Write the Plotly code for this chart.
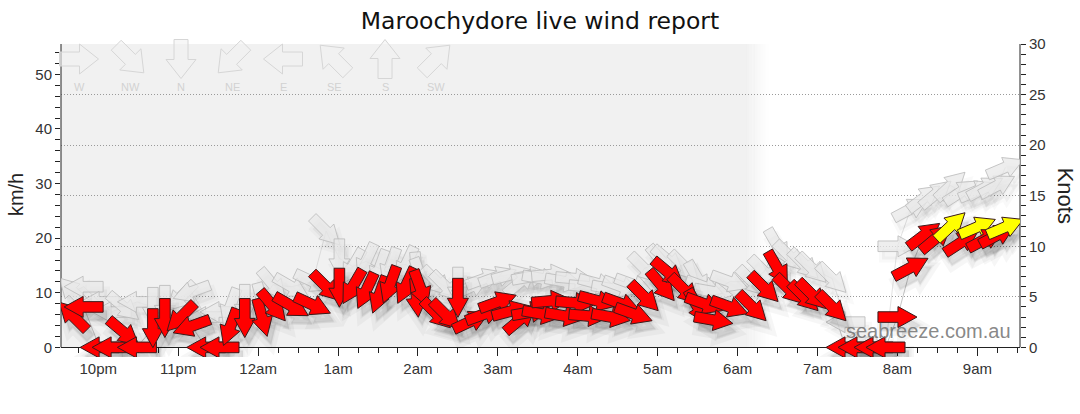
import math
import plotly.graph_objects as go

# ---------------- data ----------------
TITLE = "Maroochydore live wind report"

obs_time = ["21:41", "21:49", "22:01", "22:10", "22:19", "22:29", "22:41", "22:50", "23:02", "23:10",
            "23:21", "23:31", "23:39", "23:50", "00:03", "00:11", "00:25", "00:41", "00:51", "01:01",
            "01:11", "01:21", "01:31", "01:39", "01:51", "01:59", "02:02", "02:14", "02:21", "02:30",
            "02:40", "02:50", "03:00", "03:10", "03:17", "03:25", "03:33", "03:40", "03:50", "03:58",
            "04:08", "04:15", "04:25", "04:33", "04:42", "04:50", "05:03", "05:08", "05:20", "05:30",
            "05:35", "05:42", "05:54", "06:11", "06:20", "06:30", "06:39", "06:50", "06:56", "07:11",
            "07:21", "07:30", "07:42", "07:51", "08:00", "08:10", "08:20", "08:29", "08:40", "08:48",
            "09:00", "09:06", "09:15", "09:21"]

wind_kn = [3.1, 4.0, 0.0, 0.0, 1.5, 0.0, 1.9, 2.9, 3.0, 2.1,
           0.0, 0.0, 2.0, 2.9, 2.95, 4.1, 4.1, 4.2, 6.0, 5.9,
           6.0, 5.6, 5.2, 6.2, 6.1, 4.9, 5.8, 3.3, 3.2, 4.9,
           2.6, 3.3, 4.5, 3.6, 2.8, 3.5, 3.3, 4.6, 3.1, 4.4,
           3.1, 4.6, 3.0, 4.3, 3.3, 5.0, 6.1, 7.4, 5.7, 4.0,
           4.3, 2.7, 4.0, 4.0, 5.9, 7.8, 5.7, 5.0, 5.2, 4.0,
           0.0, 0.0, 0.0, 0.0, 3.0, 7.9, 11.1, 10.8, 12.0, 10.4,
           11.9, 10.7, 11.1, 11.9]

gust_kn = [5.5, 6.0, 4.5, 3.5, 4.0, 4.5, 4.0, 4.2, 5.0, 5.5,
           3.0, 3.5, 4.0, 4.3, 4.5, 6.2, 6.0, 6.5, 11.5, 8.8,
           8.0, 8.5, 7.8, 8.0, 8.2, 7.5, 7.0, 6.5, 6.0, 6.0,
           6.0, 6.8, 7.0, 7.2, 6.5, 7.0, 6.8, 7.2, 6.5, 6.8,
           6.0, 6.3, 5.8, 6.0, 6.2, 7.8, 8.5, 8.6, 8.0, 6.8,
           6.0, 5.5, 6.5, 6.5, 7.5, 10.0, 9.0, 8.2, 7.8, 6.8,
           2.5, 0.5, 0.0, 0.0, 10.0, 13.7, 14.8, 15.2, 16.0, 15.4,
           15.5, 15.8, 16.0, 17.8]

# direction the wind blows FROM (degrees)
wind_from_deg = [135, 90, 90, 90, 310, 90, 0, 0, 45, 70,
                 90, 90, 20, 0, 345, 320, 300, 295, 315, 0,
                 30, 25, 20, 20, 25, 355, 340, 315, 315, 0,
                 245, 250, 250, 255, 230, 260, 280, 265, 280, 275,
                 275, 285, 280, 290, 290, 315, 320, 310, 315, 330,
                 290, 280, 290, 315, 315, 330, 315, 315, 315, 315,
                 90, 90, 90, 90, 270, 242, 233, 230, 227, 237,
                 247, 242, 242, 247]

hour_ticks = ["22:00", "23:00", "00:00", "01:00", "02:00", "03:00", "04:00",
              "05:00", "06:00", "07:00", "08:00", "09:00"]
hour_labels = ["10pm", "11pm", "12am", "1am", "2am", "3am", "4am",
               "5am", "6am", "7am", "8am", "9am"]

compass_labels = ["W", "NW", "N", "NE", "E", "SE", "S", "SW"]
compass_from_deg = [270, 315, 0, 45, 90, 135, 180, 225]

night_end = "06:15"
yellow_from_kn = 11.5
KMH_PER_KN = 1.852
KN_MAX = 30
KN_BELOW = 0.95   # room under the zero line so calm arrows are not cut


def to_dt(hhmm):
    h = int(hhmm[:2])
    day = "2024-05-01" if h >= 12 else "2024-05-02"
    return f"{day} {hhmm}:00"


def shift_minutes(hhmm, m):
    h, mi = int(hhmm[:2]), int(hhmm[3:])
    tot = (h * 60 + mi + m) % (24 * 60)
    return f"{tot // 60:02d}:{tot % 60:02d}"


X_START = "2024-05-01 21:32:00"
X_END = "2024-05-02 09:32:00"

# ---------------- geometry helpers (pixel styling) ----------------
def arrow_path(bearing, L, HL, HW, SW, dx=0.0, dy=0.0):
    b = math.radians(bearing)
    loc = [(L / 2, 0), (L / 2 - HL, HW), (L / 2 - HL, SW), (-L / 2, SW),
           (-L / 2, -SW), (L / 2 - HL, -SW), (L / 2 - HL, -HW)]
    pts = []
    for u, v in loc:
        x = u * math.sin(b) + v * math.cos(b) + dx
        y = u * math.cos(b) - v * math.sin(b) + dy
        pts.append(f"{x:.2f},{y:.2f}")
    return "M " + " L ".join(pts) + " Z"


def data_arrow(t, kn, bearing, fill, line, lw, dx=0.0, dy=0.0):
    return dict(type="path", xref="x", yref="y2", xsizemode="pixel", ysizemode="pixel",
                xanchor=to_dt(t), yanchor=kn,
                path=arrow_path(bearing, 39, 19, 10.5, 5.3, dx, dy),
                fillcolor=fill, line=dict(color=line, width=lw), layer="above")


shapes = []

# night shading with a soft edge
fade_steps = 8
solid_end = shift_minutes(night_end, -8)
shapes.append(dict(type="rect", xref="x", yref="y2", x0=X_START, x1=to_dt(solid_end),
                   y0=0, y1=KN_MAX, fillcolor="#f1f1f1", line=dict(width=0), layer="below"))
for i in range(fade_steps):
    a = 1 - (i + 0.5) / fade_steps
    shapes.append(dict(type="rect", xref="x", yref="y2",
                       x0=to_dt(shift_minutes(solid_end, 2 * i)),
                       x1=to_dt(shift_minutes(solid_end, 2 * i + 2)),
                       y0=0, y1=KN_MAX, fillcolor=f"rgba(241,241,241,{a:.3f})",
                       line=dict(width=0), layer="below"))

# vertical axis lines (stop at the zero line)
for xp in (0, 1):
    shapes.append(dict(type="line", xref="paper", yref="y2", x0=xp, x1=xp, y0=0, y1=KN_MAX,
                       line=dict(color="#222", width=1), layer="above"))

# gust arrows (grey) with faint shadows
for t, g, d in zip(obs_time, gust_kn, wind_from_deg):
    shapes.append(data_arrow(t, g, (d + 180) % 360, "rgba(0,0,0,0.04)", "rgba(0,0,0,0.025)", 6, 4, -8))
for t, g, d in zip(obs_time, gust_kn, wind_from_deg):
    shapes.append(data_arrow(t, g, (d + 180) % 360, "rgba(232,232,232,0.75)", "rgba(185,185,185,0.8)", 1))

# wind arrows with soft shadows (two layers to fake a blur)
for t, w, d in zip(obs_time, wind_kn, wind_from_deg):
    shapes.append(data_arrow(t, w, (d + 180) % 360, "rgba(0,0,0,0.05)", "rgba(0,0,0,0.035)", 10, 4, -9))
for t, w, d in zip(obs_time, wind_kn, wind_from_deg):
    shapes.append(data_arrow(t, w, (d + 180) % 360, "rgba(0,0,0,0.05)", "rgba(0,0,0,0.03)", 3, 4, -8))
for t, w, d in zip(obs_time, wind_kn, wind_from_deg):
    col = "#ffff00" if w >= yellow_from_kn else "#ff0000"
    shapes.append(data_arrow(t, w, (d + 180) % 360, col, "#3a1a1a", 1))

# ---------------- layout geometry ----------------
W, H = 1080, 414
PLOT_L, PLOT_R, PLOT_T = 61, 1020, 44
PX_PER_KN = 303 / KN_MAX
plot_h = (KN_MAX + KN_BELOW) * PX_PER_KN
PLOT_B = PLOT_T + plot_h
zero_frac = KN_BELOW / (KN_MAX + KN_BELOW)


def py_to_paper(py):
    return (PLOT_B - py) / plot_h


# compass key at the top
annotations = []
for i, (lab, d) in enumerate(zip(compass_labels, compass_from_deg)):
    px = 79 + 51 * i
    xf = (px - PLOT_L) / (PLOT_R - PLOT_L)
    shapes.append(dict(type="path", xref="paper", yref="paper", xsizemode="pixel", ysizemode="pixel",
                       xanchor=xf, yanchor=py_to_paper(59),
                       path=arrow_path((d + 180) % 360, 39, 19, 15, 7),
                       fillcolor="rgba(241,241,241,0.6)", line=dict(color="#d6d6d6", width=1),
                       layer="above"))
    annotations.append(dict(x=xf, y=py_to_paper(87), xref="paper", yref="paper",
                            text=lab, showarrow=False, xanchor="center", yanchor="middle",
                            font=dict(family="Liberation Sans", size=11, color="#d2d2d2")))

annotations += [
    dict(x=-0.047, y=py_to_paper(194), xref="paper", yref="paper", text="km/h", textangle=-90,
         showarrow=False, xanchor="center", yanchor="middle",
         font=dict(family="Liberation Sans", size=20, color="#222")),
    dict(x=1.0475, y=py_to_paper(195), xref="paper", yref="paper", text="Knots", textangle=90,
         showarrow=False, xanchor="center", yanchor="middle",
         font=dict(family="Liberation Sans", size=22, color="#222")),
    dict(x=0.905, y=py_to_paper(331), xref="paper", yref="paper", text="seabreeze.com.au",
         showarrow=False, xanchor="center", yanchor="middle",
         font=dict(family="Liberation Sans", size=20, color="rgba(105,105,105,0.8)")),
]

fig = go.Figure()
fig.add_trace(go.Scatter(x=[to_dt(t) for t in obs_time], y=[w * KMH_PER_KN for w in wind_kn],
                         mode="lines", line=dict(color="rgba(150,150,150,0.55)", width=1),
                         hoverinfo="skip", showlegend=False, yaxis="y"))
fig.add_trace(go.Scatter(x=[to_dt(t) for t in obs_time], y=gust_kn,
                         mode="lines", line=dict(color="rgba(190,190,190,0.45)", width=1),
                         hoverinfo="skip", showlegend=False, yaxis="y2"))
fig.add_trace(go.Scatter(x=[X_START, X_END], y=[0, 0], mode="markers", marker=dict(opacity=0),
                         hoverinfo="skip", showlegend=False, yaxis="y3"))

tick_font = dict(family="Liberation Sans", size=15, color="#333")
fig.update_layout(
    width=W, height=H,
    margin=dict(l=PLOT_L, r=W - PLOT_R, t=PLOT_T, b=H - PLOT_B, autoexpand=False),
    paper_bgcolor="white", plot_bgcolor="rgba(0,0,0,0)",
    title=dict(text=TITLE, x=0.5, xanchor="center", y=1 - 21 / H, yanchor="middle",
               font=dict(family="DejaVu Sans", size=23.5, color="#111")),
    showlegend=False,
    xaxis=dict(type="date", range=[X_START, X_END], tickvals=[to_dt(t) for t in hour_ticks],
               ticktext=hour_labels, ticks="outside", ticklen=8, tickcolor="#222",
               anchor="free", position=zero_frac,
               showline=True, linecolor="#222", linewidth=1, showgrid=False, zeroline=False,
               tickfont=tick_font,
               minor=dict(dtick=15 * 60 * 1000, ticks="outside", ticklen=5, tickcolor="#222",
                          showgrid=False)),
    yaxis=dict(range=[-KN_BELOW * KMH_PER_KN, KN_MAX * KMH_PER_KN], tickvals=[0, 10, 20, 30, 40, 50],
               ticks="outside", ticklen=5, tickcolor="#222",
               showline=False, showgrid=False, zeroline=False, tickfont=tick_font,
               minor=dict(tickvals=list(range(2, 56, 2)), ticks="outside", ticklen=5,
                          tickcolor="#222", showgrid=False)),
    yaxis2=dict(range=[-KN_BELOW, KN_MAX], tickvals=[0, 5, 10, 15, 20, 25, 30], overlaying="y",
                side="right", ticks="outside", ticklen=5,
                tickcolor="#222", showline=False, showgrid=False, zeroline=False,
                tickfont=tick_font,
                minor=dict(tickvals=list(range(1, 31)), ticks="outside", ticklen=5,
                           tickcolor="#222", showgrid=False)),
    yaxis3=dict(range=[-KN_BELOW, KN_MAX], overlaying="y", tickvals=[5, 10, 15, 20, 25],
                showticklabels=False, ticks="", showgrid=True, gridcolor="#9a9a9a",
                griddash="1px,2px", gridwidth=1, zeroline=False, showline=False),
    shapes=shapes,
    annotations=annotations,
)

fig.write_html("out.html", config={"displayModeBar": False},
               post_script="document.body.style.margin='0';")
